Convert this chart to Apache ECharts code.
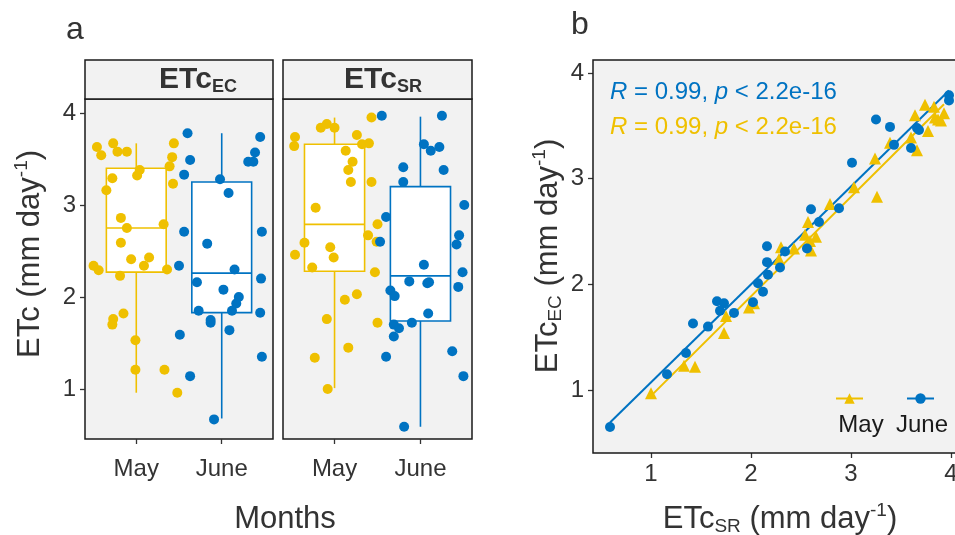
<!DOCTYPE html>
<html><head><meta charset="utf-8">
<script src="https://cdn.jsdelivr.net/npm/echarts@6/dist/echarts.min.js"></script>
<style>html,body{margin:0;padding:0;background:#fff}#c{width:955px;height:535px}</style>
</head><body><div id="c"></div>
<script>
// ---------- data ----------
const months = ['May', 'June'];
const yTicksA = [1, 2, 3, 4];
const xTicksB = [1, 2, 3, 4];
const yTicksB = [1, 2, 3, 4];

// Panel a: jittered points [position in month units (1 = May, 2 = June), ETc]
const ecMay = [[0.54,3.63],[0.59,3.54],[0.73,3.67],[0.78,3.58],[0.89,3.58],[0.72,3.29],[0.65,3.16],[1.04,3.38],[1.01,3.32],[1.44,3.67],[1.42,3.52],[1.39,3.42],[1.43,3.23],[0.82,2.86],[0.89,2.75],[1.32,2.79],[0.82,2.59],[0.94,2.41],[1.15,2.43],[1.09,2.34],[0.50,2.34],[0.56,2.29],[0.81,2.23],[1.36,2.30],[0.85,1.82],[0.73,1.76],[0.72,1.70],[0.99,1.53],[0.99,1.21],[1.33,1.21],[1.48,0.96]];
const ecJune = [[1.60,3.78],[1.63,3.49],[1.56,3.33],[2.45,3.74],[2.39,3.57],[2.31,3.47],[2.37,3.47],[1.98,3.28],[2.08,3.13],[1.56,2.71],[2.47,2.71],[1.83,2.58],[1.50,2.34],[2.15,2.30],[2.46,2.20],[1.71,2.16],[2.02,2.08],[2.20,2.00],[2.17,1.93],[2.12,1.85],[1.73,1.85],[1.87,1.75],[1.87,1.72],[2.09,1.64],[2.45,1.83],[1.51,1.59],[2.47,1.35],[1.63,1.14],[1.91,0.67]];
const srMay = [[1.43,3.95],[0.84,3.84],[0.91,3.88],[1.00,3.84],[0.54,3.74],[0.53,3.64],[1.26,3.76],[1.32,3.66],[1.40,3.67],[1.13,3.59],[1.21,3.47],[1.16,3.38],[1.19,3.25],[1.43,3.25],[0.78,2.97],[1.50,2.79],[1.39,2.67],[1.49,2.60],[0.65,2.59],[0.95,2.54],[0.99,2.43],[0.54,2.46],[0.74,2.32],[1.47,2.27],[1.26,2.03],[1.12,1.97],[0.91,1.76],[1.50,1.72],[1.16,1.45],[0.77,1.34],[0.92,1.00]];
const srJune = [[1.55,3.97],[2.25,3.97],[2.04,3.66],[2.12,3.59],[2.22,3.63],[1.80,3.41],[2.27,3.38],[1.80,3.25],[2.51,3.00],[1.60,2.87],[2.45,2.67],[1.53,2.60],[2.42,2.57],[2.04,2.35],[2.49,2.27],[1.87,2.17],[2.08,2.15],[2.10,2.16],[2.44,2.11],[1.65,2.07],[1.70,2.01],[2.09,1.82],[1.90,1.72],[1.69,1.70],[1.75,1.66],[1.69,1.57],[2.37,1.41],[1.60,1.35],[2.50,1.14],[1.81,0.59]];

// Box statistics [month position, min, Q1, median, Q3, max]
const ecBoxes = [[1,0.96,2.27,2.75,3.40,3.67],[2,0.68,1.83,2.26,3.25,3.78]];
const srBoxes = [[1,1.01,2.28,2.79,3.66,3.95],[2,0.59,1.74,2.23,3.20,3.96]];

// Panel b: [ETc_SR, ETc_EC]
const bMay = [[1.00,0.97],[1.33,1.23],[1.44,1.22],[1.73,1.54],[1.75,1.70],[1.98,1.78],[2.03,1.82],[2.28,2.24],[2.30,2.35],[2.43,2.34],[2.60,2.32],[2.59,2.41],[2.54,2.47],[2.57,2.59],[2.65,2.45],[2.79,2.76],[3.03,2.92],[3.26,2.83],[3.24,3.19],[3.39,3.34],[3.66,3.27],[3.60,3.39],[3.77,3.45],[3.64,3.60],[3.74,3.70],[3.83,3.68],[3.87,3.56],[3.84,3.58],[3.90,3.55],[3.93,3.62]];
const bJune = [[0.59,0.65],[1.16,1.15],[1.35,1.35],[1.42,1.63],[1.57,1.60],[1.66,1.84],[1.73,1.82],[1.69,1.75],[1.83,1.73],[2.02,1.83],[2.07,2.01],[2.12,1.93],[2.16,2.36],[2.16,2.21],[2.17,2.09],[2.29,2.16],[2.34,2.31],[2.56,2.34],[2.60,2.71],[2.68,2.59],[2.88,2.72],[3.01,3.15],[3.25,3.56],[3.39,3.49],[3.43,3.32],[3.60,3.29],[3.66,3.48],[3.68,3.46],[3.98,3.79],[3.98,3.74]];

const corrJune = {R: '0.99', p: '2.2e-16'};
const corrMay = {R: '0.99', p: '2.2e-16'};

// ---------- styling ----------
const FONT = '"Liberation Sans", Arial, Helvetica, sans-serif';
const YEL = '#EFC000', BLU = '#0073C2';
const TXT = '#333333';
const PANEL_BG = '#F2F2F2';
const BORDER = '#1a1a1a';

function fit(pts) {
  let n = pts.length, sx = 0, sy = 0, sxx = 0, sxy = 0, mn = Infinity, mx = -Infinity;
  pts.forEach(([x, y]) => { sx += x; sy += y; sxx += x * x; sxy += x * y; mn = Math.min(mn, x); mx = Math.max(mx, x); });
  const b = (n * sxy - sx * sy) / (n * sxx - sx * sx);
  const a = (sy - b * sx) / n;
  return [[mn, a + b * mn], [mx, a + b * mx]];
}

function renderBox(params, api) {
  const c = api.value(0), mn = api.value(1), q1 = api.value(2), md = api.value(3), q3 = api.value(4), mx = api.value(5);
  const col = c < 1.5 ? YEL : BLU;
  const hw = 0.35;
  const tl = api.coord([c - hw, q3]), br = api.coord([c + hw, q1]);
  const ml = api.coord([c - hw, md]), mr = api.coord([c + hw, md]);
  const top = api.coord([c, mx]), p3 = api.coord([c, q3]), p1 = api.coord([c, q1]), bot = api.coord([c, mn]);
  const ls = {stroke: col, lineWidth: 1.6};
  return {type: 'group', children: [
    {type: 'line', shape: {x1: top[0], y1: top[1], x2: p3[0], y2: p3[1]}, style: ls},
    {type: 'line', shape: {x1: p1[0], y1: p1[1], x2: bot[0], y2: bot[1]}, style: ls},
    {type: 'rect', shape: {x: tl[0], y: tl[1], width: br[0] - tl[0], height: br[1] - tl[1]}, style: {stroke: col, lineWidth: 1.6, fill: '#ffffff'}},
    {type: 'line', shape: {x1: ml[0], y1: ml[1], x2: mr[0], y2: mr[1]}, style: ls}
  ]};
}

const tickStyle = {color: TXT, width: 1.3};
function facetX(gi) {
  return {
    gridIndex: gi, type: 'value', min: 0.4, max: 2.6,
    splitLine: {show: false}, axisLine: {show: false},
    axisTick: {show: true, customValues: [1, 2], length: 5, lineStyle: tickStyle},
    axisLabel: {customValues: [1, 2], formatter: v => months[Math.round(v) - 1], fontSize: 24, color: TXT, fontFamily: FONT, margin: 18}
  };
}
function facetY(gi, showLabels) {
  return {
    gridIndex: gi, type: 'value', min: 0.457, max: 4.152,
    splitLine: {show: false}, axisLine: {show: false},
    axisTick: {show: showLabels, customValues: yTicksA, length: 5, lineStyle: tickStyle},
    axisLabel: {show: showLabels, customValues: yTicksA, fontSize: 24, color: TXT, fontFamily: FONT, margin: 9}
  };
}

const gridBase = {show: true, backgroundColor: PANEL_BG, borderColor: BORDER, borderWidth: 1.5, containLabel: false, outerBoundsMode: 'none'};

const fitMay = fit(bMay), fitJune = fit(bJune);

const rich = (size, color) => ({
  a: {fontSize: size, fontFamily: FONT, fill: color, lineHeight: size + 4},
  s: {fontSize: Math.round(size * 0.6), fontFamily: FONT, fill: color, lineHeight: Math.round(size * 0.6), verticalAlign: 'bottom'},
  u: {fontSize: Math.round(size * 0.6), fontFamily: FONT, fill: color, lineHeight: Math.round(size * 0.6), verticalAlign: 'top'}
});

function corrText(c) { return '{i|R}{n| = ' + c.R + ', }{i|p}{n| < ' + c.p + '}'; }
const corrRich = col => ({
  i: {fontSize: 24, fontStyle: 'italic', fontFamily: FONT, fill: col},
  n: {fontSize: 24, fontFamily: FONT, fill: col}
});
const stripRich = {
  a: {fontSize: 30, fontWeight: 'bold', fontFamily: FONT, fill: TXT, lineHeight: 32},
  s: {fontSize: 18, fontWeight: 'bold', fontFamily: FONT, fill: TXT, lineHeight: 18, verticalAlign: 'bottom'}
};

const option = {
  animation: false,
  backgroundColor: '#ffffff',
  grid: [
    Object.assign({}, gridBase, {left: 85, top: 99, width: 188, height: 340}),
    Object.assign({}, gridBase, {left: 283, top: 99, width: 189, height: 340}),
    Object.assign({}, gridBase, {left: 593, top: 60, width: 372, height: 393, borderWidth: 0})
  ],
  xAxis: [
    facetX(0), facetX(1),
    {gridIndex: 2, type: 'value', min: 0.42, max: 4.14, splitLine: {show: false}, axisLine: {show: false},
     axisTick: {show: true, customValues: xTicksB, length: 5, lineStyle: tickStyle},
     axisLabel: {customValues: xTicksB, fontSize: 24, color: TXT, fontFamily: FONT, margin: 9}}
  ],
  yAxis: [
    facetY(0, true), facetY(1, false),
    {gridIndex: 2, type: 'value', min: 0.404, max: 4.123, splitLine: {show: false}, axisLine: {show: false},
     axisTick: {show: true, customValues: yTicksB, length: 5, lineStyle: tickStyle},
     axisLabel: {customValues: yTicksB, fontSize: 24, color: TXT, fontFamily: FONT, margin: 9}}
  ],
  legend: [
    {data: ['May'], left: 835, top: 392, itemWidth: 27, itemHeight: 13, formatter: () => '', selectedMode: false, padding: 0, textStyle: {fontSize: 1}},
    {data: ['June'], left: 906, top: 392, itemWidth: 27, itemHeight: 13, formatter: () => '', selectedMode: false, padding: 0, textStyle: {fontSize: 1}}
  ],
  series: [
    {type: 'custom', xAxisIndex: 0, yAxisIndex: 0, renderItem: renderBox, data: ecBoxes, encode: {x: 0, y: [1, 2, 3, 4, 5]}, z: 1, silent: true},
    {type: 'custom', xAxisIndex: 1, yAxisIndex: 1, renderItem: renderBox, data: srBoxes, encode: {x: 0, y: [1, 2, 3, 4, 5]}, z: 1, silent: true},
    {type: 'scatter', xAxisIndex: 0, yAxisIndex: 0, data: ecMay, symbol: 'circle', symbolSize: 10, itemStyle: {color: YEL, opacity: 1}, z: 3},
    {type: 'scatter', xAxisIndex: 0, yAxisIndex: 0, data: ecJune, symbol: 'circle', symbolSize: 10, itemStyle: {color: BLU, opacity: 1}, z: 3},
    {type: 'scatter', xAxisIndex: 1, yAxisIndex: 1, data: srMay, symbol: 'circle', symbolSize: 10, itemStyle: {color: YEL, opacity: 1}, z: 3},
    {type: 'scatter', xAxisIndex: 1, yAxisIndex: 1, data: srJune, symbol: 'circle', symbolSize: 10, itemStyle: {color: BLU, opacity: 1}, z: 3},
    {name: 'May', type: 'line', xAxisIndex: 2, yAxisIndex: 2, data: fitMay, symbol: 'triangle', symbolSize: 13, showSymbol: false,
     lineStyle: {color: YEL, width: 2}, itemStyle: {color: YEL}, z: 2},
    {name: 'June', type: 'line', xAxisIndex: 2, yAxisIndex: 2, data: fitJune, symbol: 'circle', symbolSize: 11, showSymbol: false,
     lineStyle: {color: BLU, width: 2}, itemStyle: {color: BLU}, z: 2},
    {name: 'May', type: 'scatter', xAxisIndex: 2, yAxisIndex: 2, data: bMay, symbol: 'triangle', symbolSize: 12, itemStyle: {color: YEL, opacity: 1}, z: 3},
    {name: 'June', type: 'scatter', xAxisIndex: 2, yAxisIndex: 2, data: bJune, symbol: 'circle', symbolSize: 10, itemStyle: {color: BLU, opacity: 1}, z: 4}
  ],
  graphic: [
    // panel b frame (its right edge falls outside the picture)
    {type: 'rect', shape: {x: 593, y: 60, width: 380, height: 393}, style: {fill: null, stroke: BORDER, lineWidth: 1.5}, z: 10, silent: true},
    // facet strips
    {type: 'rect', shape: {x: 85, y: 60, width: 188, height: 39}, style: {fill: PANEL_BG, stroke: BORDER, lineWidth: 1.5}, z: 10},
    {type: 'rect', shape: {x: 283, y: 60, width: 189, height: 39}, style: {fill: PANEL_BG, stroke: BORDER, lineWidth: 1.5}, z: 10},
    {type: 'text', x: 198, y: 80, z: 11, style: {text: '{a|ETc}{s|EC}', align: 'center', verticalAlign: 'middle', rich: stripRich}},
    {type: 'text', x: 383, y: 80, z: 11, style: {text: '{a|ETc}{s|SR}', align: 'center', verticalAlign: 'middle', rich: stripRich}},
    // panel tags
    {type: 'text', x: 75, y: 30, z: 11, style: {text: 'a', fontSize: 32, fontFamily: FONT, fill: TXT, align: 'center', verticalAlign: 'middle'}},
    {type: 'text', x: 580, y: 25, z: 11, style: {text: 'b', fontSize: 32, fontFamily: FONT, fill: TXT, align: 'center', verticalAlign: 'middle'}},
    // axis titles
    {type: 'text', x: 30, y: 254, rotation: Math.PI / 2, z: 11, style: {text: '{a|ETc (mm day}{u|-1}{a|)}', align: 'center', verticalAlign: 'middle', rich: rich(31, TXT)}},
    {type: 'text', x: 285, y: 519, z: 11, style: {text: 'Months', fontSize: 31, fontFamily: FONT, fill: TXT, align: 'center', verticalAlign: 'middle'}},
    {type: 'text', x: 548, y: 256, rotation: Math.PI / 2, z: 11, style: {text: '{a|ETc}{s|EC}{a| (mm day}{u|-1}{a|)}', align: 'center', verticalAlign: 'middle', rich: rich(31, TXT)}},
    {type: 'text', x: 780, y: 519, z: 11, style: {text: '{a|ETc}{s|SR}{a| (mm day}{u|-1}{a|)}', align: 'center', verticalAlign: 'middle', rich: rich(31, TXT)}},
    // correlation labels
    {type: 'text', x: 610, y: 92, z: 11, style: {text: corrText(corrJune), align: 'left', verticalAlign: 'middle', rich: corrRich(BLU)}},
    {type: 'text', x: 610, y: 127, z: 11, style: {text: corrText(corrMay), align: 'left', verticalAlign: 'middle', rich: corrRich(YEL)}},
    // legend labels
    {type: 'text', x: 861, y: 425, z: 11, style: {text: months[0], fontSize: 24, fontFamily: FONT, fill: '#1a1a1a', align: 'center', verticalAlign: 'middle'}},
    {type: 'text', x: 922, y: 425, z: 11, style: {text: months[1], fontSize: 24, fontFamily: FONT, fill: '#1a1a1a', align: 'center', verticalAlign: 'middle'}}
  ]
};

const chart = echarts.init(document.getElementById('c'), null, {renderer: 'canvas'});
chart.setOption(option);
</script>
</body></html>
